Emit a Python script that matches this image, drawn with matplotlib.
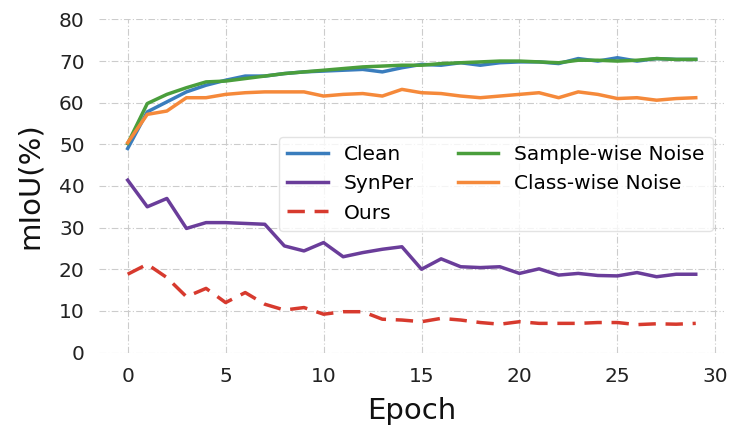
import numpy as np
import matplotlib
matplotlib.use("Agg")
import matplotlib.pyplot as plt

# values
epochs = list(range(30))
clean = [49.0, 57.8, 60.2, 62.6, 64.2, 65.4, 66.4, 66.4, 67.0, 67.4,
         67.6, 67.8, 68.0, 67.4, 68.4, 69.2, 69.0, 69.6, 69.0, 69.6,
         69.8, 69.8, 69.4, 70.6, 70.0, 70.8, 70.0, 70.6, 70.4, 70.4]
sample_noise = [50.2, 59.8, 62.0, 63.6, 65.0, 65.2, 65.8, 66.4, 67.0, 67.4,
                67.8, 68.2, 68.6, 68.8, 69.0, 69.0, 69.4, 69.6, 69.8, 70.0,
                70.0, 69.8, 69.6, 70.2, 70.2, 70.0, 70.2, 70.6, 70.4, 70.4]
class_noise = [50.4, 57.2, 58.0, 61.2, 61.2, 62.0, 62.4, 62.6, 62.6, 62.6,
               61.6, 62.0, 62.2, 61.6, 63.2, 62.4, 62.2, 61.6, 61.2, 61.6,
               62.0, 62.4, 61.2, 62.6, 62.0, 61.0, 61.2, 60.6, 61.0, 61.2]
synper = [41.4, 35.0, 37.0, 29.8, 31.2, 31.2, 31.0, 30.8, 25.6, 24.4,
          26.4, 23.0, 24.0, 24.8, 25.4, 20.0, 22.5, 20.6, 20.4, 20.6,
          19.0, 20.1, 18.6, 19.0, 18.5, 18.4, 19.2, 18.2, 18.8, 18.8]
ours = [18.8, 21.2, 18.0, 13.4, 15.4, 12.0, 14.4, 11.6, 10.2, 10.8,
        9.2, 9.8, 9.8, 8.0, 7.8, 7.4, 8.2, 7.8, 7.2, 6.8,
        7.4, 7.0, 7.0, 7.0, 7.2, 7.2, 6.7, 6.9, 6.8, 7.0]

fig = plt.figure(figsize=(7.3, 4.32), dpi=100)
ax = fig.add_axes([0.136, 0.184, 0.856, 0.771])

lw = 2.5
ax.plot(epochs, clean, color="#3a7dbd", lw=lw, label="Clean")
ax.plot(epochs, synper, color="#6a3d9a", lw=lw, label="SynPer")
ax.plot(epochs, ours, color="#d73a2e", lw=lw, linestyle=(0, (5, 2.8)), label="Ours")
ax.plot(epochs, sample_noise, color="#4a9e3c", lw=lw, label="Sample-wise Noise")
ax.plot(epochs, class_noise, color="#f5893a", lw=lw, label="Class-wise Noise")

ax.set_ylim(0, 80)
ax.set_xticks([0, 5, 10, 15, 20, 25, 30])
ax.set_yticks(range(0, 81, 10))
ax.grid(True, color="#cccccc", lw=0.8, linestyle=(0, (6, 2, 1, 2)))
for s in ax.spines.values():
    s.set_visible(False)
ax.tick_params(length=0, pad=10.5, labelsize=14.5, labelcolor="#222222")

ax.set_xlabel("Epoch", fontsize=21, labelpad=8, color="#111111")
ax.set_ylabel("mIoU(%)", fontsize=21, labelpad=11, color="#111111")

ax.legend(ncol=2, fontsize=14.5, loc="upper right",
          bbox_to_anchor=(0.982, 0.646), borderaxespad=0,
          frameon=True, edgecolor="#dddddd", handlelength=2.0,
          columnspacing=2.2, labelspacing=0.5)

fig.savefig("out.png", dpi=100)
